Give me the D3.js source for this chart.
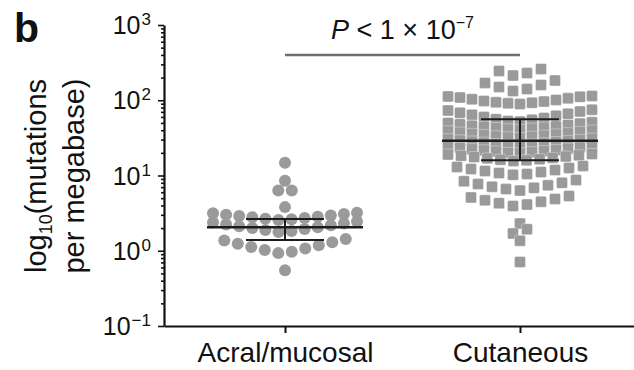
<!DOCTYPE html>
<html>
<head>
<meta charset="utf-8">
<script src="https://cdn.jsdelivr.net/npm/d3@7"></script>
<style>
  body { margin: 0; background: #fff; }
  #chart { width: 634px; height: 370px; }
  text { font-family: "Liberation Sans", Arial, Helvetica, sans-serif; fill: #111; }
</style>
</head>
<body>
<div id="chart"></div>
<script>
// categories on the x axis
const categories = ["Acral/mucosal", "Cutaneous"];

// mutations per megabase, one value per tumour
const acralValues = [14.8, 8.5, 6.3, 6.3, 3.8,
  3.2, 3.14, 3.08, 3.01, 2.95, 2.89, 2.84, 2.78, 2.72, 2.67, 2.62, 2.56,
  2.45, 2.38, 2.31, 2.24, 2.18, 2.12, 2.05, 2.0, 1.94, 1.88, 1.83, 1.78,
  1.43, 1.37, 1.30, 1.24, 1.18, 1.12, 1.07, 1.02, 0.97, 0.93,
  0.55];
const cutaneousValues = [260, 245, 230, 213,
  183, 170, 160, 150, 141, 133,
  114, 112.5, 111, 108.5, 106, 103, 101, 98, 96, 94, 92.5, 91, 89,
  75, 73, 71, 68, 66, 64, 62, 60, 58, 56, 55,
  53, 52, 51, 50, 49, 48, 47, 46, 45, 44.3, 43.4,
  42.8, 41.9, 41.1, 40.3, 39.5, 38.7, 38.0, 37.2, 36.5, 35.8, 35.1,
  34.5, 33.9, 33.3, 32.7, 32.1, 31.5, 30.9, 30.4, 29.8, 29.3, 28.7,
  28.3, 27.8, 27.3, 26.8, 26.3, 25.8, 25.4, 24.9, 24.4, 24.0, 23.6,
  23.2, 22.8, 22.4, 21.9, 21.6, 21.2, 20.8, 20.4, 20.0, 19.7, 19.3,
  19.0, 18.6, 18.3, 17.9, 17.6, 17.2, 16.9, 16.5, 16.2, 15.9, 15.6,
  13.4, 13.0, 12.6, 12.2, 11.8, 11.5, 11.1, 10.8, 10.5, 10.2,
  8.7, 8.4, 8.0, 7.7, 7.4, 7.1, 6.85, 6.6, 6.3,
  5.34, 5.11, 4.89, 4.68, 4.48, 4.29, 4.11, 3.93,
  2.3, 1.93, 1.7, 1.36, 0.71];

// [lower quartile, median, upper quartile]
const acralStats = [1.39, 2.05, 2.64];
const cutaneousStats = [16, 29, 56];

// y axis ticks and labels
const majorTicks = [0.1, 1, 10, 100, 1000];
const tickExponents = ["\u22121", "0", "1", "2", "3"];

const pText = ["P", " < 1 \u00d7 10", "\u22127"];

class DotPlot {
  constructor() {
    this.width = 634;
    this.height = 370;
    this.margin = { left: 164, right: 0, top: 25, bottom: 44 };
    this.initSvg();
    this.drawAxes();
    this.drawGroup(acralValues, categories[0], "circle", 12, 13.5, 12);
    this.drawGroup(cutaneousValues, categories[1], "square", 11, 14, 13);
    this.drawStats(acralStats, categories[0]);
    this.drawStats(cutaneousStats, categories[1]);
    this.drawPValue();
  }

  initSvg() {
    this.svg = d3.select("#chart").append("svg")
      .attr("width", this.width)
      .attr("height", this.height);

    this.y = d3.scaleLog()
      .domain([0.1, 1000])
      .range([this.height - this.margin.bottom, this.margin.top]);

    this.x = d3.scalePoint()
      .domain(categories)
      .range([this.margin.left, 641])
      .padding(0.515);

    this.points = this.svg.append("g");
    this.overlay = this.svg.append("g");
  }

  drawAxes() {
    const y = this.y;
    const minor = [];
    majorTicks.slice(0, -1).forEach((t) => {
      for (let k = 2; k <= 9; k++) minor.push(t * k);
    });

    const ax = this.svg.append("g")
      .attr("transform", `translate(${this.margin.left},0)`);
    ax.call(d3.axisLeft(y).tickValues(minor).tickSize(3).tickFormat(""));
    ax.call((g) => g.select(".domain").remove());
    const axMajor = this.svg.append("g")
      .attr("transform", `translate(${this.margin.left},0)`)
      .call(d3.axisLeft(y).tickValues(majorTicks).tickSize(6).tickSizeOuter(0).tickFormat(""));
    this.svg.selectAll(".tick line").attr("stroke", "#111").attr("stroke-width", 1.6);
    axMajor.select(".domain").attr("stroke", "#111").attr("stroke-width", 2.2);

    // 10^n labels
    const lab = this.svg.append("g").selectAll("text")
      .data(majorTicks)
      .join("text")
      .attr("x", this.margin.left - 13)
      .attr("y", (d) => y(d) + 9)
      .attr("text-anchor", "end")
      .attr("font-size", 25);
    lab.append("tspan").text("10");
    lab.append("tspan")
      .attr("dy", -9)
      .attr("dx", 1)
      .attr("font-size", 17)
      .text((d, i) => tickExponents[i]);

    // x axis
    const xAxis = this.svg.append("g")
      .attr("transform", `translate(0,${this.height - this.margin.bottom})`)
      .call(d3.axisBottom(this.x).tickSize(7).tickSizeOuter(0));
    xAxis.select(".domain").attr("stroke", "#111").attr("stroke-width", 2.2);
    xAxis.selectAll(".tick line").attr("stroke", "#111").attr("stroke-width", 2);
    xAxis.selectAll(".tick text")
      .attr("font-size", 28)
      .attr("dy", 0)
      .attr("y", 36)
      .attr("fill", "#111");

    // axis title
    const t1 = this.svg.append("text")
      .attr("transform", "translate(46,176) rotate(-90)")
      .attr("text-anchor", "middle")
      .attr("font-size", 29);
    t1.append("tspan").text("log");
    t1.append("tspan").attr("font-size", 18).attr("dy", 6).text("10");
    t1.append("tspan").attr("dy", -6).text("(mutations");
    this.svg.append("text")
      .attr("transform", "translate(84,176) rotate(-90)")
      .attr("text-anchor", "middle")
      .attr("font-size", 29)
      .text("per megabase)");

    // panel letter
    this.svg.append("text")
      .attr("x", 14).attr("y", 42)
      .attr("font-size", 41)
      .attr("font-weight", "bold")
      .text("b");
  }

  // rows like a column scatter: values close in y share a row, lowest in the middle
  layoutRows(values, maxPerRow, gap) {
    const y = this.y;
    const sorted = values.slice().sort((a, b) => b - a);
    const rows = [];
    let row = [];
    sorted.forEach((v) => {
      const prev = row[row.length - 1];
      if (row.length && (row.length >= maxPerRow || y(v) - y(prev) > gap)) {
        rows.push(row);
        row = [];
      }
      row.push(v);
    });
    if (row.length) rows.push(row);

    const out = [];
    rows.forEach((r) => {
      const n = r.length;
      const slots = d3.range(n).map((k) => k - (n - 1) / 2)
        .sort((a, b) => Math.abs(a) - Math.abs(b) || a - b);
      r.slice().sort((a, b) => a - b).forEach((v, i) => out.push({ v, slot: slots[i], n }));
    });
    return out;
  }

  drawGroup(values, cat, shape, size, step, maxPerRow) {
    const span = 144; // widest row, centre to centre
    const data = this.layoutRows(values, maxPerRow, 4.5)
      .sort((a, b) => b.v - a.v);
    const cx = this.x(cat);
    const px = (d) => cx + d.slot * (d.n > 1 ? Math.min(step, span / (d.n - 1)) : step);
    if (shape === "circle") {
      this.points.append("g").selectAll("circle")
        .data(data)
        .join("circle")
        .attr("cx", px)
        .attr("cy", (d) => this.y(d.v))
        .attr("r", size / 2)
        .attr("fill", "#9a9a9a");
    } else {
      this.points.append("g").selectAll("rect")
        .data(data)
        .join("rect")
        .attr("x", (d) => px(d) - size / 2)
        .attr("y", (d) => this.y(d.v) - size / 2)
        .attr("width", size)
        .attr("height", size)
        .attr("rx", 1.5)
        .attr("fill", "#9a9a9a")
        .attr("stroke", "#fff")
        .attr("stroke-width", 0.35);
    }
  }

  drawStats(stats, cat) {
    const cx = this.x(cat);
    const [q1, med, q3] = stats.map((d) => this.y(d));
    const g = this.overlay.append("g").attr("stroke", "#1c1c1c");
    g.append("line").attr("x1", cx - 78).attr("x2", cx + 78)
      .attr("y1", med).attr("y2", med).attr("stroke-width", 2.4);
    g.append("line").attr("x1", cx).attr("x2", cx)
      .attr("y1", q3).attr("y2", q1).attr("stroke-width", 2);
    [q1, q3].forEach((q) => {
      g.append("line").attr("x1", cx - 39).attr("x2", cx + 39)
        .attr("y1", q).attr("y2", q).attr("stroke-width", 2);
    });
  }

  drawPValue() {
    const x0 = this.x(categories[0]);
    const x1 = this.x(categories[1]);
    this.overlay.append("line")
      .attr("x1", x0).attr("x2", x1)
      .attr("y1", 55).attr("y2", 55)
      .attr("stroke", "#6e6e6e")
      .attr("stroke-width", 2.5);
    const t = this.overlay.append("text")
      .attr("x", (x0 + x1) / 2)
      .attr("y", 39)
      .attr("text-anchor", "middle")
      .attr("font-size", 27);
    t.append("tspan").attr("font-style", "italic").text(pText[0]);
    t.append("tspan").text(pText[1]);
    t.append("tspan").attr("dy", -11).attr("font-size", 16).text(pText[2]);
  }
}

new DotPlot();
</script>
</body>
</html>
